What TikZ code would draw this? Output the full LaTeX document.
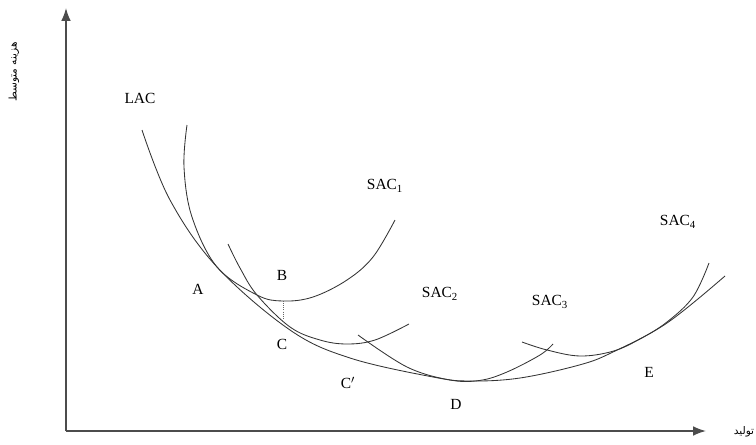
\documentclass[tikz,border=0pt]{standalone}
\usepackage{fontspec}
\setmainfont{Liberation Serif}
\newfontfamily\arabicfont[Script=Arabic]{DejaVu Sans}
\TeXXeTstate=1
\usepackage{tikz}
\usetikzlibrary{arrows.meta}

\begin{document}
\begin{tikzpicture}[
    axis/.style={draw=black!70, line width=1.1pt, -{Latex[length=3.2mm,width=2.4mm]}},
    curve/.style={draw=black!80, line width=0.6pt},
    lbl/.style={font=\fontsize{11}{13}\selectfont},
    plbl/.style={font=\arabicfont\fontsize{7.5}{9}\selectfont}]
    \useasboundingbox (0,0) rectangle (18.9,11.1);

    \coordinate (O) at (1.65,0.325);
    \coordinate (ytop) at (1.65,10.9);
    \coordinate (xend) at (17.65,0.325);
    \draw[axis] (O) -- (ytop);
    \draw[axis] (O) -- (xend);
    \node[plbl, rotate=90] (ylab) at (0.35,9.3) {\beginR هزینه متوسط\endR};
    \node[plbl] (xlab) at (18.6,0.3) {\beginR تولید\endR};

    % long run curve
    \draw[curve] plot[smooth, tension=0.6] coordinates {(3.55,7.85) (4.25,6.1) (5.425,4.425) (7.25,2.85) (8.75,2.15) (10.825,1.675) (11.75,1.575) (13.0,1.65) (14.5,1.98) (15.325,2.3) (16.675,3.025) (18.125,4.2)};

    % short run curves
    \draw[curve] plot[smooth, tension=0.6] coordinates {(4.675,7.975) (4.6,6.925) (4.8,5.675) (5.425,4.425) (6.425,3.725) (7.075,3.575) (7.825,3.675) (8.675,4.1) (9.325,4.675) (9.875,5.6)};
    \draw[curve] plot[smooth, tension=0.6] coordinates {(5.7,5.0) (6.0,4.4) (6.425,3.725) (7.25,2.925) (8.0,2.6) (8.675,2.5) (9.375,2.6) (10.225,3.0)};
    \draw[curve] plot[smooth, tension=0.6] coordinates {(8.95,2.725) (10.175,1.925) (11.25,1.6) (12.0,1.59) (12.675,1.8) (13.5,2.225) (13.825,2.5)};
    \draw[curve] plot[smooth, tension=0.6] coordinates {(13.05,2.55) (13.675,2.35) (14.5,2.2) (15.325,2.32) (16.0,2.625) (16.675,3.05) (17.325,3.675) (17.725,4.525)};

    \coordinate (bmin) at (7.075,3.575);
    \coordinate (cpt) at (7.075,3.15);
    \draw[densely dotted, black!60, line width=0.5pt] (bmin) -- (cpt);

    \node[lbl] (lac) at (3.5,8.65) {LAC};
    \node[lbl] (sac1) at (9.625,6.45) {SAC\textsubscript{1}};
    \node[lbl] (sac2) at (11.0,3.75) {SAC\textsubscript{2}};
    \node[lbl] (sac3) at (13.75,3.55) {SAC\textsubscript{3}};
    \node[lbl] (sac4) at (16.95,5.55) {SAC\textsubscript{4}};
    \node[lbl] (A) at (4.95,3.875) {A};
    \node[lbl] (B) at (7.05,4.225) {B};
    \node[lbl] (C) at (7.05,2.5) {C};
    \node[lbl] (Cp) at (8.7,1.525) {C$'$};
    \node[lbl] (D) at (11.4,1.0) {D};
    \node[lbl] (E) at (16.225,1.8) {E};
\end{tikzpicture}
\end{document}
